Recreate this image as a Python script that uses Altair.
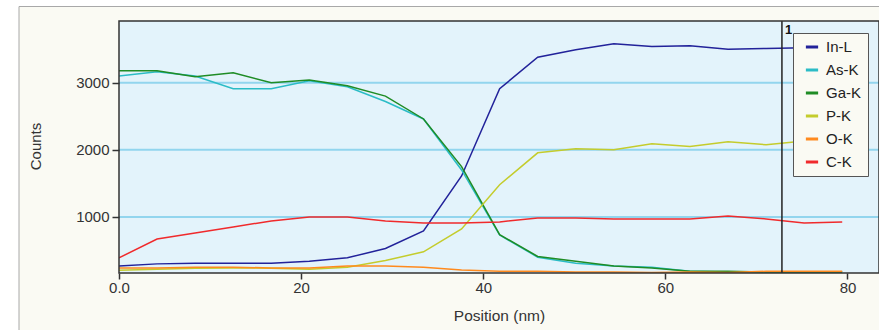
import altair as alt
import pandas as pd

position = [0.0, 4.18, 8.36, 12.54, 16.72, 20.9, 25.08, 29.26, 33.44, 37.62,
            41.8, 45.98, 50.16, 54.34, 58.52, 62.7, 66.88, 71.06, 75.24, 79.42]

series_names = ["In-L", "As-K", "Ga-K", "P-K", "O-K", "C-K"]
series_colors = ["#22229A", "#2BBCC6", "#1F8C25", "#C4CC2C", "#FF8A1E", "#F02A2C"]

in_l = [270, 300, 310, 310, 310, 340, 390, 530, 790, 1610,
        2910, 3380, 3490, 3580, 3540, 3550, 3500, 3510, 3520, 3530]
as_k = [3100, 3165, 3100, 2910, 2910, 3030, 2940, 2720, 2460, 1700,
        730, 400, 310, 270, 250, 190, 180, 180, 180, 180]
ga_k = [3180, 3180, 3090, 3150, 3000, 3040, 2955, 2800, 2460, 1750,
        735, 410, 340, 270, 240, 190, 190, 180, 180, 180]
p_k = [205, 220, 235, 240, 235, 220, 250, 350, 480, 820,
       1480, 1955, 2015, 2000, 2090, 2050, 2120, 2075, 2130, 2165]
o_k = [240, 240, 250, 250, 240, 240, 270, 270, 250, 210,
       190, 190, 180, 180, 170, 180, 170, 190, 190, 190]
c_k = [390, 670, 760, 850, 940, 1000, 1000, 940, 910, 910,
       925, 985, 985, 970, 970, 970, 1015, 970, 910, 925]

grid_values = [1000, 2000, 3000]
x_ticks = [0, 20, 40, 60, 80]
marker_position = [72.8]
marker_label = ["1"]

all_series = [in_l, as_k, ga_k, p_k, o_k, c_k]
rows = []
for name, vals in zip(series_names, all_series):
    for p, v in zip(position, vals):
        rows.append({"Position": p, "Counts": v, "Series": name})
df = pd.DataFrame(rows)

one = pd.DataFrame({"k": [0]})
grid_df = pd.DataFrame({"Counts": grid_values})
marker_df = pd.DataFrame({"Position": marker_position, "t": marker_label})

W, H = 760, 252
font = "Liberation Sans"
xscale = alt.Scale(domain=[0, 83.46], nice=False, zero=False)
yscale = alt.Scale(domain=[164, 3920], nice=False, zero=False)

x_axis = alt.Axis(values=x_ticks, labelExpr="datum.value == 0 ? '0.0' : datum.label",
                  grid=False, domain=False, tickColor="#333", tickSize=6, tickWidth=1.5,
                  labelFont=font, labelFontSize=15, labelColor="#333", labelPadding=1,
                  labelFlush=False,
                  titleFont=font, titleFontSize=15.5, titleFontWeight="normal",
                  titleColor="#333", titlePadding=13, zindex=2)
y_axis = alt.Axis(values=grid_values, format="d", grid=False, domain=False, tickColor="#333",
                  tickSize=7, tickWidth=1.5, labelFlush=False,
                  labelFont=font, labelFontSize=15, labelColor="#333", labelPadding=3,
                  titleFont=font, titleFontSize=15, titleFontWeight="normal",
                  titleColor="#333", titleX=-76, titleY=125, zindex=2)

X = alt.X("Position:Q", scale=xscale, title="Position (nm)", axis=x_axis)
Y = alt.Y("Counts:Q", scale=yscale, title="Counts", axis=y_axis)

frame = alt.Chart(one).mark_rect(fill="#FAFAF3", stroke="#A8A8A8", strokeWidth=1).encode(
    x=alt.value(-100), x2=alt.value(W + 20), y=alt.value(-14.5), y2=alt.value(H + 80)
)
plotbg = alt.Chart(one).mark_rect(fill="#E3F3FB").encode(
    x=alt.value(0), x2=alt.value(W), y=alt.value(0), y2=alt.value(H)
)
grid = alt.Chart(grid_df).mark_rule(color="#92D5EE", strokeWidth=2).encode(
    y=Y, x=alt.value(0), x2=alt.value(W),
)

lines = alt.Chart(df).mark_line(strokeWidth=1.5, clip=True).encode(
    x=X,
    y=Y,
    color=alt.Color("Series:N", sort=series_names,
                    scale=alt.Scale(domain=series_names, range=series_colors),
                    legend=alt.Legend(title=None, orient="none", legendX=674, legendY=12,
                                      symbolType="stroke", symbolStrokeWidth=3, symbolSize=150,
                                      labelFont=font, labelFontSize=15, labelColor="#222",
                                      rowPadding=7, padding=6, symbolOffset=5, labelOffset=6,
                                      fillColor="#FAFAF3", strokeColor="#555")),
)

marker = alt.Chart(marker_df).mark_rule(color="#222", strokeWidth=1.5).encode(
    x=X, y=alt.value(0), y2=alt.value(H)
)
marker_text = alt.Chart(marker_df).mark_text(
    font=font, fontSize=13, fontWeight="bold", color="#111", align="left", baseline="top", dx=3
).encode(x=X, y=alt.value(3), text="t:N")

border = alt.Chart(one).mark_rect(fill=None, fillOpacity=0, stroke="#333", strokeWidth=1.5).encode(
    x=alt.value(0), x2=alt.value(W), y=alt.value(0), y2=alt.value(H)
)

chart = alt.layer(frame, plotbg, grid, lines, marker, marker_text, border).properties(
    width=W, height=H,
    autosize=alt.AutoSizeParams(type="none"),
    padding={"left": 119, "top": 21, "right": 0, "bottom": 57},
    background="white",
).configure_view(stroke=None)

chart.save("out.html", embed_options={"renderer": "svg", "actions": False})
